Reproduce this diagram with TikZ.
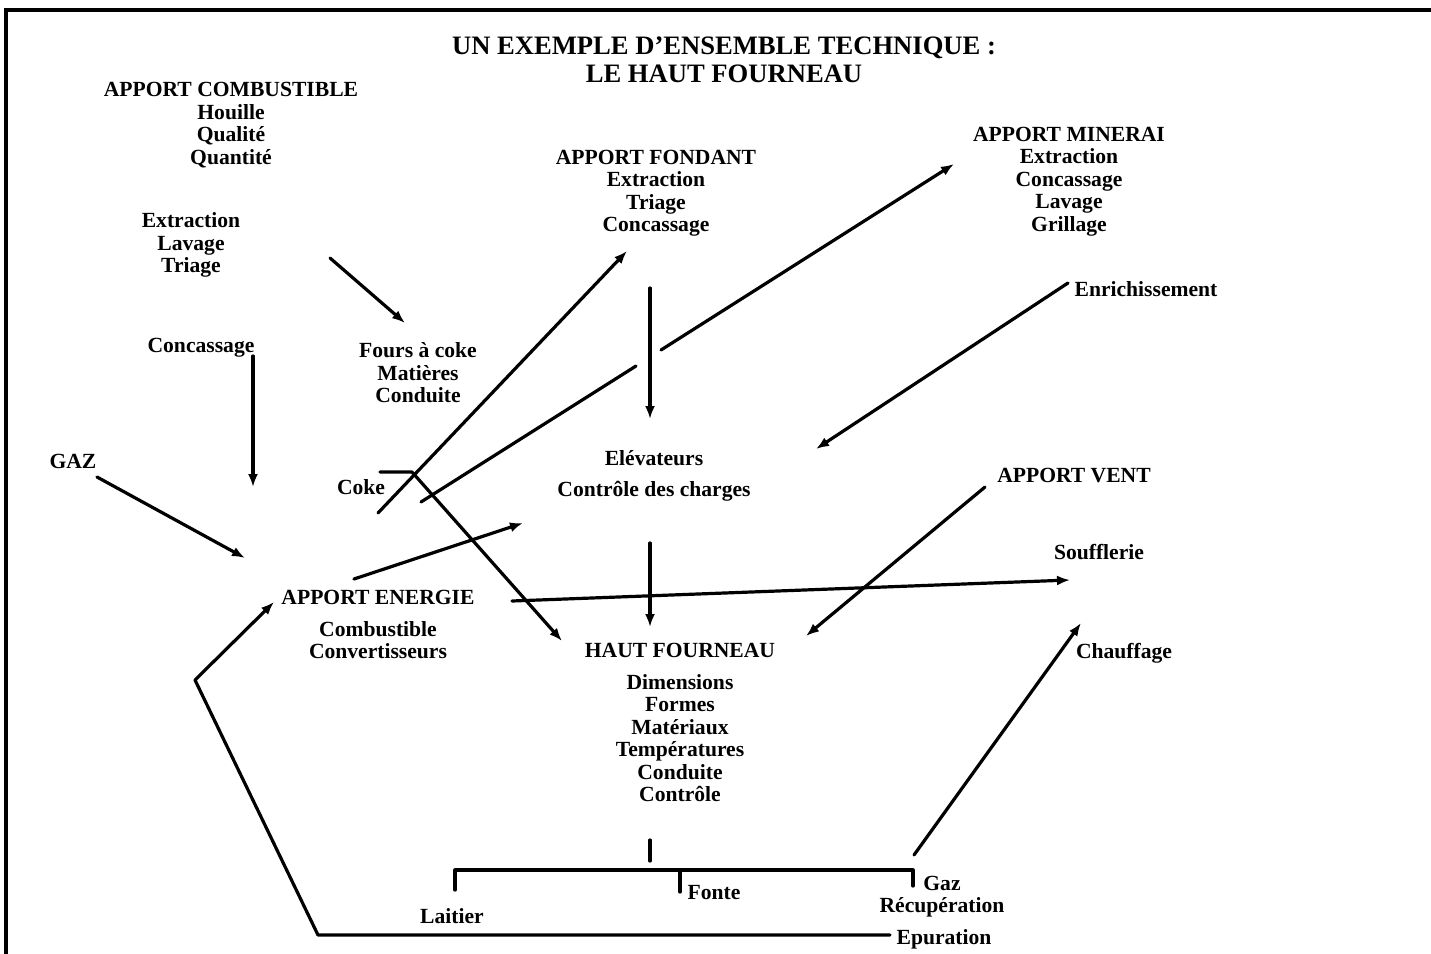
\documentclass[tikz,border=0pt]{standalone}
\usepackage{fontspec}
\setmainfont{Liberation Serif}
\usetikzlibrary{arrows.meta}
\begin{document}
\begin{tikzpicture}[x=0.5pt,y=-0.5pt,
  txt/.style={font=\fontsize{10.8}{11.25}\selectfont\bfseries, align=center, inner sep=0pt},
  ttl/.style={font=\fontsize{13.3}{14}\selectfont\bfseries, align=center, inner sep=0pt},
  ln/.style={line width=1.6pt, line cap=round, line join=round},
  arr/.style={ln, -{Latex[length=6.5pt,width=5pt]}},
  frame/.style={line width=1.6pt}]
\useasboundingbox (0,0) rectangle (1431,954);
% frame
\coordinate (ftl) at (6,10);
\coordinate (ftr) at (1431,10);
\coordinate (fbl) at (6,954);
\draw[frame] (ftr) -- (ftl) -- (fbl);

% texts
\node[ttl] (title) at (724,60) {UN EXEMPLE D'ENSEMBLE TECHNIQUE :\\LE HAUT FOURNEAU};
\node[txt] (comb) at (231,125) {APPORT COMBUSTIBLE\\Houille\\Qualité\\Quantité};
\node[txt] (ext) at (191,245) {Extraction\\Lavage\\Triage};
\node[txt] (conc) at (201,348) {Concassage};
\node[txt] (fours) at (418,373) {Fours à coke\\Matières\\Conduite};
\node[txt] (gaz) at (73,461) {GAZ};
\node[txt] (coke) at (361,487) {Coke};
\node[txt] (fond) at (656,193) {APPORT FONDANT\\Extraction\\Triage\\Concassage};
\node[txt] (min) at (1069,181.5) {APPORT MINERAI\\Extraction\\Concassage\\Lavage\\Grillage};
\node[txt] (enr) at (1146,289) {Enrichissement};
\node[txt] (elev) at (654,458) {Elévateurs};
\node[txt] (ctrl) at (654,491) {Contrôle des charges};
\node[txt] (vent) at (1074,476) {APPORT VENT};
\node[txt] (souf) at (1099,552) {Soufflerie};
\node[txt] (chauf) at (1124,653) {Chauffage};
\node[txt] (ener) at (378,597) {APPORT ENERGIE};
\node[txt] (enersub) at (378,640) {Combustible\\Convertisseurs};
\node[txt] (hf) at (680,650) {HAUT FOURNEAU};
\node[txt] (hfsub) at (680,738) {Dimensions\\Formes\\Matériaux\\Températures\\Conduite\\Contrôle};
\node[txt] (lait) at (452,916) {Laitier};
\node[txt] (fonte) at (714,893) {Fonte};
\node[txt] (gazr) at (942,896.5) {Gaz\\Récupération};
\node[txt] (epur) at (944,939) {Epuration};

% connector end points
\coordinate (a1s) at (330,258);  \coordinate (a1e) at (405,323);
\coordinate (a2s) at (253,356);  \coordinate (a2e) at (253,487);
\coordinate (a3s) at (97,477);   \coordinate (a3e) at (245,558);
\coordinate (k1) at (380,472);   \coordinate (k2) at (412,472);  \coordinate (k3) at (562,641);
\coordinate (a5s) at (378,513);  \coordinate (a5e) at (627,251);
\coordinate (a6s) at (421,502);  \coordinate (a6m) at (636,366);
\coordinate (a6n) at (661,350);  \coordinate (a6e) at (954,164);
\coordinate (a7s) at (354,579);  \coordinate (a7e) at (523,523);
\coordinate (a8s) at (650,288);  \coordinate (a8e) at (650,419);
\coordinate (a9s) at (650,543);  \coordinate (a9e) at (650,627);
\coordinate (a10s) at (1068,283); \coordinate (a10e) at (816,449);
\coordinate (a11s) at (985,487); \coordinate (a11e) at (806,636);
\coordinate (a12s) at (512,601); \coordinate (a12e) at (1070,580);
\coordinate (a13s) at (914,855); \coordinate (a13e) at (1081,623);
\coordinate (t1) at (650,840);   \coordinate (t2) at (650,861);
\coordinate (b1) at (455,890);   \coordinate (b2) at (455,870);
\coordinate (b3) at (913,870);   \coordinate (b4) at (913,886);
\coordinate (b5) at (680,870);   \coordinate (b6) at (680,892);
\coordinate (l1) at (890,935);   \coordinate (l2) at (318,935);
\coordinate (l3) at (195,680);   \coordinate (l4) at (274,602);

% connectors
\draw[arr] (a1s) -- (a1e);
\draw[arr] (a2s) -- (a2e);
\draw[arr] (a3s) -- (a3e);
\draw[arr] (k1) -- (k2) -- (k3);
\draw[arr] (a5s) -- (a5e);
\draw[ln] (a6s) -- (a6m);
\draw[arr] (a6n) -- (a6e);
\draw[arr] (a7s) -- (a7e);
\draw[arr] (a8s) -- (a8e);
\draw[arr] (a9s) -- (a9e);
\draw[arr] (a10s) -- (a10e);
\draw[arr] (a11s) -- (a11e);
\draw[arr] (a12s) -- (a12e);
\draw[arr] (a13s) -- (a13e);
\draw[ln] (t1) -- (t2);
\draw[ln] (b1) -- (b2) -- (b3) -- (b4);
\draw[ln] (b5) -- (b6);
\draw[arr] (l1) -- (l2) -- (l3) -- (l4);
\end{tikzpicture}
\end{document}
